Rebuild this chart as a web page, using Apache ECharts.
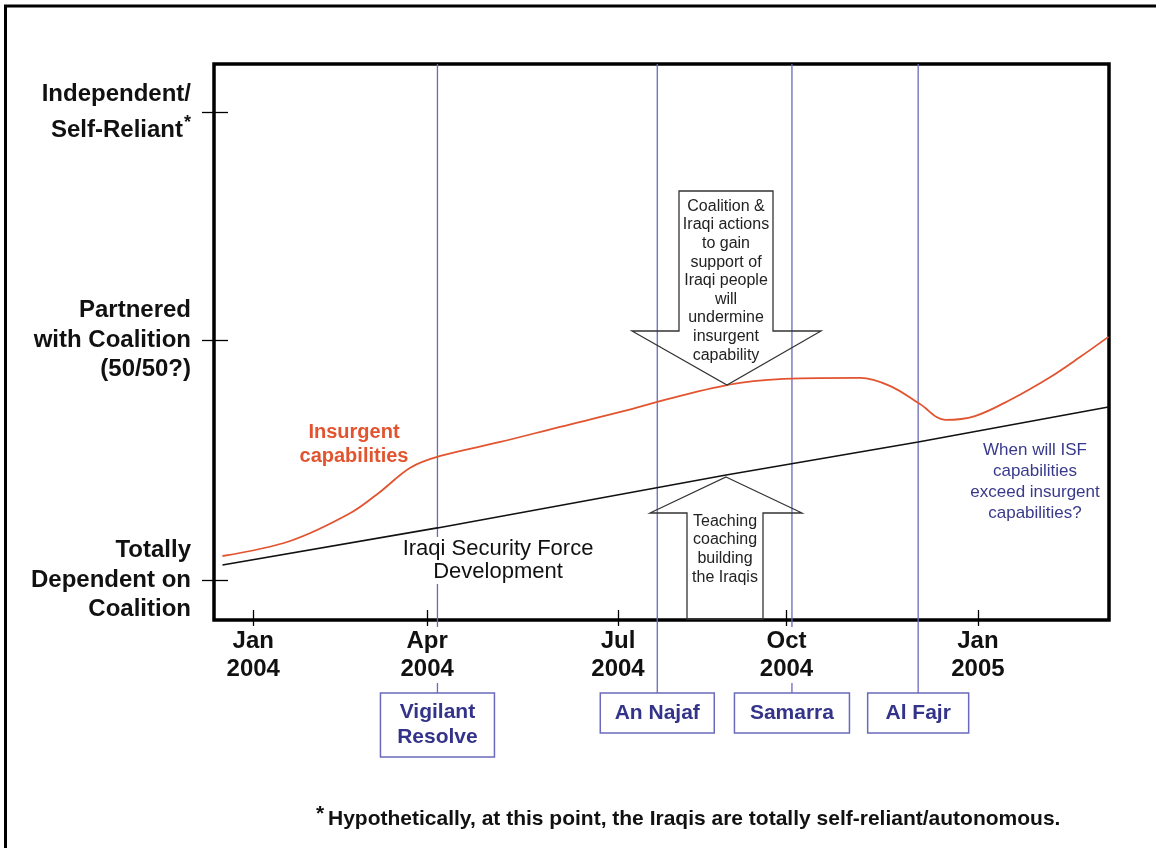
<!DOCTYPE html>
<html>
<head>
<meta charset="utf-8">
<script src="https://cdn.jsdelivr.net/npm/echarts@6/dist/echarts.min.js"></script>
<style>
html, body { margin: 0; padding: 0; background: #fff; }
#main { width: 1156px; height: 848px; }
</style>
</head>
<body>
<div id="main"></div>
<script>
// x: months from Jan 2004, y: capability (0 = totally dependent, 1 = partnered)
var xTickPos = [0, 2.88, 6.04, 8.83, 12];
var xTickLabels = ['Jan\n2004', 'Apr\n2004', 'Jul\n2004', 'Oct\n2004', 'Jan\n2005'];
var yTickPos = [0, 1, 1.95];
var yTickLabels = ['Totally\nDependent on\nCoalition', 'Partnered\nwith Coalition\n(50/50?)', 'Independent/\nSelf-Reliant*'];

var insurgent = [
  [-0.51, 0.10], [0.61, 0.1625], [1.61, 0.279], [2.10, 0.367], [2.60, 0.468], [3.10, 0.517],
  [4.09, 0.575], [5.08, 0.638], [6.08, 0.70], [7.07, 0.767], [8.06, 0.821], [9.06, 0.840],
  [10.05, 0.842], [10.55, 0.808], [11.04, 0.733], [11.46, 0.667], [11.95, 0.683],
  [12.53, 0.75], [13.20, 0.846], [13.69, 0.929], [14.16, 1.013]
];
var isf = [[-0.51, 0.0625], [3.05, 0.217], [7.83, 0.4375], [11.01, 0.575], [14.16, 0.721]];

var opNames = ['Vigilant\nResolve', 'An Najaf', 'Samarra', 'Al Fajr'];
var opX = [3.05, 6.69, 8.92, 11.01];

// layout
var FONT = '"Liberation Sans", Arial, sans-serif';
var BLUE = '#6a6abd';
var NAVY = '#33338a';
var RED = '#e2542f';
var opBoxTop = 693;
var opBoxW = [114, 114, 115, 101];
var opBoxH = [64, 40, 40, 40];

var dom = document.getElementById('main');
var myChart = echarts.init(dom);

function nearest(arr, v) {
  var best = 0;
  for (var i = 1; i < arr.length; i++) {
    if (Math.abs(arr[i] - v) < Math.abs(arr[best] - v)) best = i;
  }
  return best;
}

function renderOp(params, api) {
  var i = params.dataIndex;
  var px = api.coord([api.value(0), 0])[0];
  var top = params.coordSys.y;
  var w = opBoxW[i], h = opBoxH[i];
  return {
    type: 'group',
    children: [
      { type: 'line', shape: { x1: px, y1: top, x2: px, y2: opBoxTop }, style: { stroke: BLUE, lineWidth: 1.3 } },
      { type: 'rect', shape: { x: px - w / 2, y: opBoxTop, width: w, height: h },
        style: { fill: '#fff', stroke: BLUE, lineWidth: 1.5 } },
      { type: 'text', style: { text: opNames[i], x: px, y: opBoxTop + h / 2, align: 'center', verticalAlign: 'middle',
        fontSize: 21, fontWeight: 'bold', fontFamily: FONT, fill: NAVY, lineHeight: 25 } }
    ]
  };
}

var xRange = { min: -0.65, max: 14.17 };
var yRange = { min: -0.1667, max: 2.15 };
var tickStyle = { color: '#000', width: 1.3 };

var option = {
  backgroundColor: '#fff',
  animation: false,
  grid: { left: 214, right: 47, top: 64, bottom: 228, show: true, borderColor: '#000', borderWidth: 3.5, backgroundColor: 'transparent' },
  xAxis: [
    {
      type: 'value', min: xRange.min, max: xRange.max, position: 'bottom', z: 5,
      axisLine: { show: false, onZero: false },
      splitLine: { show: false },
      axisTick: { show: true, inside: false, length: 6, customValues: xTickPos, lineStyle: tickStyle },
      axisLabel: {
        customValues: xTickPos, margin: 7, color: '#111', fontSize: 24, fontWeight: 'bold', fontFamily: FONT,
        lineHeight: 28, backgroundColor: '#fff', padding: [0, 3],
        formatter: function (v) { return xTickLabels[nearest(xTickPos, v)]; }
      }
    },
    {
      type: 'value', min: xRange.min, max: xRange.max, position: 'bottom', z: 5,
      axisLine: { show: false, onZero: false }, splitLine: { show: false }, axisLabel: { show: false },
      axisTick: { show: true, inside: true, length: 10, customValues: xTickPos, lineStyle: tickStyle }
    }
  ],
  yAxis: [
    {
      type: 'value', min: yRange.min, max: yRange.max, position: 'left',
      axisLine: { show: false, onZero: false }, splitLine: { show: false },
      axisTick: { show: true, inside: false, length: 12, customValues: yTickPos, lineStyle: tickStyle },
      axisLabel: {
        customValues: yTickPos, margin: 23, align: 'right',
        formatter: function (v) {
          var i = nearest(yTickPos, v);
          var tag = i === 2 ? 'b' : 'a';
          return yTickLabels[i].split('\n').map(function (s) {
            return s.charAt(s.length - 1) !== '*' ? '{' + tag + '|' + s + '}' : '{' + tag + '|' + s.slice(0, -1) + '}{s|*}';
          }).join('\n');
        },
        rich: {
          a: { fontSize: 24, fontWeight: 'bold', fontFamily: FONT, color: '#111', lineHeight: 29.5, align: 'right' },
          b: { fontSize: 24, fontWeight: 'bold', fontFamily: FONT, color: '#111', lineHeight: 36, align: 'right' },
          s: { fontSize: 18, fontWeight: 'bold', fontFamily: FONT, color: '#111', verticalAlign: 'top', lineHeight: 36, padding: [2, 0, 0, 1] }
        }
      }
    },
    {
      type: 'value', min: yRange.min, max: yRange.max, position: 'left',
      axisLine: { show: false, onZero: false }, splitLine: { show: false }, axisLabel: { show: false },
      axisTick: { show: true, inside: true, length: 14, customValues: yTickPos, lineStyle: tickStyle }
    }
  ],
  series: [
    {
      name: 'Operations', type: 'custom', z: 1, clip: false,
      renderItem: renderOp,
      data: opX.map(function (x) { return [x, 0]; })
    },
    {
      name: 'Iraqi Security Force Development', type: 'line', z: 3,
      data: isf, showSymbol: false, lineStyle: { color: '#111', width: 1.6 }
    },
    {
      name: 'Insurgent capabilities', type: 'line', z: 3,
      data: insurgent, showSymbol: false, smooth: 0.35,
      lineStyle: { color: RED, width: 1.8 }
    }
  ],
  graphic: [
    { type: 'polyline', z: 100, shape: { points: [[5.5, 848], [5.5, 6], [1156, 6]] }, style: { stroke: '#000', fill: null, lineWidth: 3 } },
    // down arrow
    { type: 'polygon', z: 100,
      shape: { points: [[679, 191], [773, 191], [773, 331], [821, 331], [727, 385], [632, 331], [679, 331]] },
      style: { fill: null, stroke: '#333', lineWidth: 1.3 } },
    { type: 'text', z: 101,
      style: { text: 'Coalition &\nIraqi actions\nto gain\nsupport of\nIraqi people\nwill\nundermine\ninsurgent\ncapability',
        x: 726, y: 197, align: 'center', verticalAlign: 'top', fontSize: 16, fontFamily: FONT, fill: '#222', lineHeight: 18.6 } },
    // up arrow
    { type: 'polygon', z: 100,
      shape: { points: [[726, 477], [802, 513], [763, 513], [763, 619], [687, 619], [687, 513], [650, 513]] },
      style: { fill: null, stroke: '#333', lineWidth: 1.3 } },
    { type: 'text', z: 101,
      style: { text: 'Teaching\ncoaching\nbuilding\nthe Iraqis',
        x: 725, y: 512, align: 'center', verticalAlign: 'top', fontSize: 16, fontFamily: FONT, fill: '#222', lineHeight: 18.7 } },
    { type: 'text', z: 101,
      style: { text: 'Insurgent\ncapabilities', x: 354, y: 420, align: 'center', verticalAlign: 'top',
        fontSize: 20, fontWeight: 'bold', fontFamily: FONT, fill: RED, lineHeight: 24 } },
    { type: 'text', z: 101,
      style: { text: 'Iraqi Security Force\nDevelopment', x: 498, y: 537, align: 'center', verticalAlign: 'top',
        fontSize: 22, fontFamily: FONT, fill: '#111', lineHeight: 23.5, backgroundColor: '#fff' } },
    { type: 'text', z: 101,
      style: { text: 'When will ISF\ncapabilities\nexceed insurgent\ncapabilities?', x: 1035, y: 439.5, align: 'center', verticalAlign: 'top',
        fontSize: 17, fontFamily: FONT, fill: '#3a3a8c', lineHeight: 21 } },
    { type: 'text', z: 101,
      style: { text: '*', x: 316, y: 804, align: 'left', verticalAlign: 'top', fontSize: 21, fontWeight: 'bold', fontFamily: FONT, fill: '#111' } },
    { type: 'text', z: 101,
      style: { text: 'Hypothetically, at this point, the Iraqis are totally self-reliant/autonomous.', x: 328, y: 819,
        align: 'left', verticalAlign: 'middle', fontSize: 21, fontWeight: 'bold', fontFamily: FONT, fill: '#111' } }
  ]
};

if (option && typeof option === 'object') {
  myChart.setOption(option, true);
}
</script>
</body>
</html>
